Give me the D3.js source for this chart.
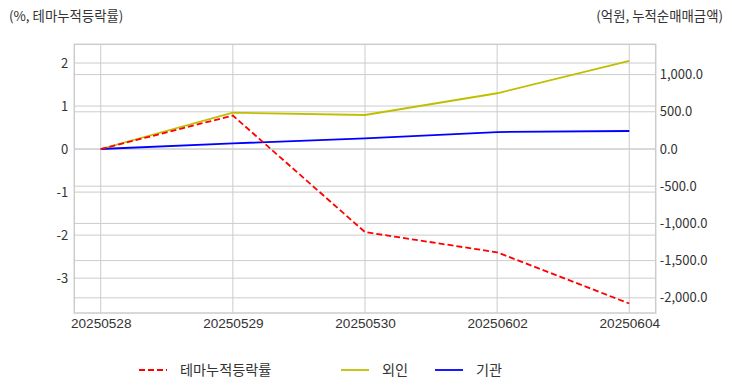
<!DOCTYPE html>
<html><head><meta charset="utf-8">
<script src="https://cdn.jsdelivr.net/npm/d3@7"></script>
<style>body{margin:0;background:#fff}text{font-family:"Noto Sans CJK KR","Noto Sans",sans-serif}</style>
</head><body><svg id="c" width="732" height="392"></svg>
<script>
const dates = ["20250528","20250529","20250530","20250602","20250604"];
const themeRate = [0, 0.78, -1.93, -2.40, -3.59];
const foreign = [0, 488, 457, 749, 1183];
const inst = [0, 75, 144, 228, 242];
const leftTicks = [2,1,0,-1,-2,-3];
const rightTicks = [1000,500,0,-500,-1000,-1500,-2000];
const seriesNames = ["테마누적등락률","외인","기관"];

const svg = d3.select("#c");
const L=74.3, R=655.7, T=44.3, B=313;
const x = d3.scalePoint().domain(dates).range([L,R]).padding(0.2);
const yL = d3.scaleLinear().domain([-3.81,2.435]).range([B,T]);
const yR = d3.scaleLinear().domain([-2204,1407]).range([B,T]);
const grid = "#cccccc", txt="#333";

// grids
svg.append("g").selectAll("line").data(leftTicks).join("line")
 .attr("x1",L).attr("x2",R).attr("y1",d=>yL(d)).attr("y2",d=>yL(d)).attr("stroke",grid).attr("stroke-width",1);
svg.append("g").selectAll("line").data(rightTicks).join("line")
 .attr("x1",L).attr("x2",R).attr("y1",d=>yR(d)).attr("y2",d=>yR(d)).attr("stroke",grid).attr("stroke-width",1);
svg.append("g").selectAll("line").data(dates).join("line")
 .attr("x1",d=>x(d)).attr("x2",d=>x(d)).attr("y1",T).attr("y2",B).attr("stroke",grid).attr("stroke-width",1);
svg.append("rect").attr("x",L).attr("y",T).attr("width",R-L).attr("height",B-T).attr("fill","none").attr("stroke",grid).attr("stroke-width",1.5);

// axes
const axL = d3.axisLeft(yL).tickValues(leftTicks).tickSize(0).tickPadding(6).tickFormat(d=>d<0?"-"+Math.abs(d):d);
const gL = svg.append("g").attr("transform",`translate(${L},0)`).call(axL);
const axR = d3.axisRight(yR).tickValues(rightTicks).tickSize(0).tickPadding(4).tickFormat(d=>(d<0?"-":"")+d3.format(",.1f")(Math.abs(d)));
const gR = svg.append("g").attr("transform",`translate(${R},0)`).call(axR);
const axB = d3.axisBottom(x).tickSize(0).tickPadding(5);
const gB = svg.append("g").attr("transform",`translate(0,${B})`).call(axB);
[gL,gR,gB].forEach(g=>{g.select(".domain").remove();g.selectAll("text").attr("fill",txt).style("font-size","13px").style("font-family",'"Noto Sans CJK KR","Noto Sans",sans-serif');});
gB.selectAll("text").style("font-family",'"Liberation Sans",Arial,sans-serif').style("font-size","13.6px");

// lines
const lineL = d3.line().x((d,i)=>x(dates[i])).y(d=>yL(d));
const lineR = d3.line().x((d,i)=>x(dates[i])).y(d=>yR(d));
svg.append("path").attr("d",lineR(foreign)).attr("fill","none").attr("stroke","#bfbf00").attr("stroke-width",1.8);
svg.append("path").attr("d",lineR(inst)).attr("fill","none").attr("stroke","#0000ff").attr("stroke-width",1.8);
svg.append("path").attr("d",lineL(themeRate)).attr("fill","none").attr("stroke","#ff0000").attr("stroke-width",1.8).attr("stroke-dasharray","6,3");

// axis titles
svg.append("text").attr("x",9).attr("y",21).attr("fill",txt).style("font-size","13.4px").text("(%, 테마누적등락률)");
svg.append("text").attr("x",723).attr("y",21).attr("text-anchor","end").attr("fill",txt).style("font-size","13.4px").text("(억원, 누적순매매금액)");

// legend
const leg = [{n:seriesNames[0],c:"#ff0000",d:"6,3",x:139},{n:seriesNames[1],c:"#bfbf00",d:null,x:341},{n:seriesNames[2],c:"#0000ff",d:null,x:435}];
const lg = svg.append("g").selectAll("g").data(leg).join("g").attr("transform",d=>`translate(${d.x},370)`);
lg.append("line").attr("x1",0).attr("x2",28).attr("stroke",d=>d.c).attr("stroke-width",1.8).attr("stroke-dasharray",d=>d.d);
lg.append("text").attr("x",41).attr("y",5).attr("fill",txt).style("font-size","14.2px").text(d=>d.n);
</script></body></html>
